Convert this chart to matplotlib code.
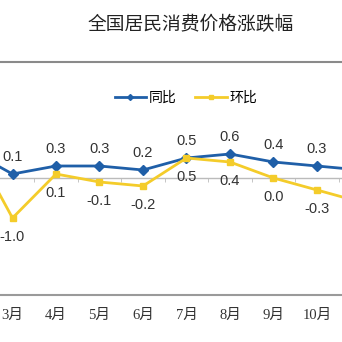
import matplotlib
matplotlib.use('Agg')
import matplotlib.pyplot as plt

plt.rcParams['font.family'] = ['Liberation Sans', 'Noto Sans CJK SC', 'DejaVu Sans']

months = ['2月', '3月', '4月', '5月', '6月', '7月', '8月', '9月', '10月', '11月']
yoy = [0.7, 0.1, 0.3, 0.3, 0.2, 0.5, 0.6, 0.4, 0.3, 0.2]    # 同比
mom = [1.0, -1.0, 0.1, -0.1, -0.2, 0.5, 0.4, 0.0, -0.3, -0.6]  # 环比

blue = '#1f5fa8'
yellow = '#f4cc2a'
x = list(range(len(months)))

fig = plt.figure(figsize=(3.42, 3.42), dpi=100)
ax = fig.add_axes([0, 1 - 295 / 342, 1, (295 - 62) / 342])

ax.plot(x, yoy, color=blue, lw=2.0, marker='D', ms=5, label='同比', zorder=3)
ax.plot(x, mom, color=yellow, lw=2.0, marker='s', ms=5, label='环比', zorder=4)

ax.set_yticks([])

# zero line with small ticks between months
ax.spines['bottom'].set_position(('data', 0))
ax.spines['bottom'].set_color('#bbbbbb')
ax.spines['bottom'].set_linewidth(1.0)
ax.set_xticks([])
ax.set_xticks([i + 0.5 for i in x], minor=True)
ax.tick_params(axis='x', which='minor', length=3, color='#bbbbbb', labelbottom=False)
ax.spines['left'].set_visible(False)
ax.spines['right'].set_visible(False)
ax.spines['top'].set_color('#8a8a8a')
ax.spines['top'].set_linewidth(1.5)

# month labels on the bottom line
sec = ax.secondary_xaxis('bottom')
sec.set_xticks(x)
sec.set_xticklabels(months, family=['Liberation Serif', 'Noto Sans CJK SC'], fontsize=10.5, color='#333333')
sec.tick_params(length=0, pad=10)
sec.spines['bottom'].set_color('#9a9a9a')
sec.spines['bottom'].set_linewidth(1.5)

# view window: 3月 sits near the left edge, 11月 just past the right edge
ax.set_xlim(1 - 12.5 / 43.5, 1 + (342 - 12.5) / 43.5)
ax.set_ylim(-(295 - 178) / 40, (178 - 62) / 40)

for xi, v in zip(x, yoy):
    ax.annotate(f'{v:.1f}', (xi, v), xytext=(0, 12), textcoords='offset points',
                ha='center', va='center', fontsize=10.5, color='#333333')
for xi, v in zip(x, mom):
    ax.annotate(f'{v:.1f}', (xi, v), xytext=(0, -14), textcoords='offset points',
                ha='center', va='center', fontsize=10.5, color='#333333')

fig.text(191 / 342, 1 - 25 / 342, '全国居民消费价格涨跌幅', ha='center', va='center',
         fontsize=13.5, family=['Noto Sans CJK SC'], color='#222222')

fig.legend(loc='center', bbox_to_anchor=(186 / 342, 1 - 98 / 342), ncol=2, frameon=False,
           prop={'family': ['Noto Sans CJK SC'], 'size': 10},
           handlelength=2.3, handletextpad=0.2, columnspacing=1.3, markerscale=0.6)

fig.savefig('out.png', dpi=100)
